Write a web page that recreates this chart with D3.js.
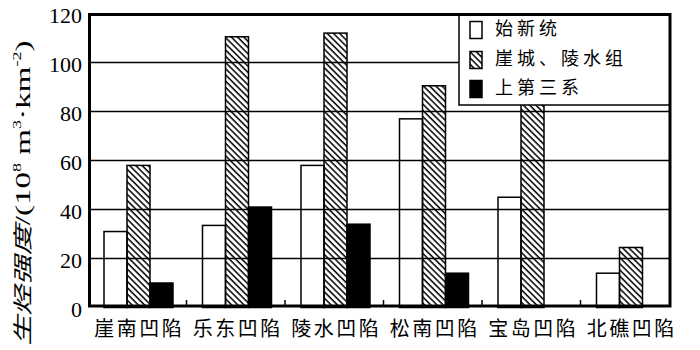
<!DOCTYPE html>
<html>
<head>
<meta charset="utf-8">
<script src="https://cdn.jsdelivr.net/npm/d3@7"></script>
<style>
  html, body { margin: 0; padding: 0; background: #fff; }
  svg { display: block; }
</style>
</head>
<body>
<svg id="chart" width="700" height="350"></svg>
<script>
// ---- data ----
const categories = ["崖南凹陷", "乐东凹陷", "陵水凹陷", "松南凹陷", "宝岛凹陷", "北礁凹陷"];
const seriesNames = ["始新统", "崖城、陵水组", "上第三系"];
const eocene   = [31, 33.5, 58, 77, 45, 14];
const yacheng  = [58, 110.5, 112, 90.5, 88, 24.5];
const neogene  = [10, 41, 34, 14, null, null];
const yTicks = [0, 20, 40, 60, 80, 100, 120];

const seriesValues = [eocene, yacheng, neogene];
const svg = d3.select("#chart");

// ---- layout ----
const frame = { left: 89.5, top: 14.5, right: 670, bottom: 306 };
const y = d3.scaleLinear().domain([0, 120]).range([307.5, 13.5]);
const x0 = d3.scaleBand().domain(categories).range([88, 679]).padding(0);
const x1 = d3.scaleBand().domain(seriesNames).range([16, 85]).padding(0);

// hatch pattern
const defs = svg.append("defs");
const pat = defs.append("pattern")
  .attr("id", "hatch")
  .attr("patternUnits", "userSpaceOnUse")
  .attr("width", 4.4).attr("height", 4.4)
  .attr("patternTransform", "rotate(-45)");
pat.append("line")
  .attr("x1", 1).attr("y1", 0).attr("x2", 1).attr("y2", 4.4)
  .attr("stroke", "#000").attr("stroke-width", 1.5);

const fills = ["#fff", "url(#hatch)", "#000"];

// ---- bars ----
const rows = [];
categories.forEach((c, i) => {
  seriesNames.forEach((s, j) => {
    const v = seriesValues[j][i];
    if (v != null) rows.push({ c, s, j, v });
  });
});

svg.append("g").selectAll("rect")
  .data(rows)
  .join("rect")
  .attr("x", d => x0(d.c) + x1(d.s))
  .attr("y", d => y(d.v))
  .attr("width", x1.bandwidth())
  .attr("height", d => y(0) - y(d.v))
  .attr("fill", d => fills[d.j])
  .attr("stroke", "#000")
  .attr("stroke-width", 1.5);

// ---- gridlines ----
svg.append("g").selectAll("line")
  .data(yTicks.filter(t => t > 0 && t < 120))
  .join("line")
  .attr("x1", frame.left).attr("x2", frame.right)
  .attr("y1", d => y(d)).attr("y2", d => y(d))
  .attr("stroke", "#000").attr("stroke-width", 1.3);

// ---- bottom small ticks between groups ----
svg.append("g").selectAll("line")
  .data(categories.slice(1))
  .join("line")
  .attr("x1", d => x0(d)).attr("x2", d => x0(d))
  .attr("y1", frame.bottom).attr("y2", frame.bottom - 6)
  .attr("stroke", "#000").attr("stroke-width", 1.5);

// ---- y tick labels ----
svg.append("g").selectAll("text")
  .data(yTicks)
  .join("text")
  .attr("x", 82)
  .attr("y", d => y(d) + 4)
  .attr("text-anchor", "end")
  .attr("dominant-baseline", "middle")
  .attr("font-family", "'Liberation Serif', serif")
  .attr("font-size", 22)
  .attr("fill", "#000")
  .text(d => d);

// ---- x category labels ----
svg.append("g").selectAll("text")
  .data(categories)
  .join("text")
  .attr("x", d => x0(d) + 50 + 1.25)
  .attr("y", 336)
  .attr("text-anchor", "middle")
  .attr("font-family", "'Noto Sans CJK SC', sans-serif")
  .attr("font-size", 20)
  .attr("letter-spacing", 2.5)
  .attr("fill", "#000")
  .text(d => d);

// ---- y title ----
const title = svg.append("text")
  .attr("transform", "translate(30,193) rotate(-90)")
  .attr("text-anchor", "middle")
  .attr("textLength", 305)
  .attr("lengthAdjust", "spacingAndGlyphs")
  .attr("font-size", 20)
  .attr("fill", "#000");
title.append("tspan").attr("font-family", "'Noto Sans CJK SC', sans-serif").attr("font-style", "italic").text("生烃强度");
title.append("tspan").attr("font-family", "'Liberation Serif', serif").attr("font-size", 22).text("/(10");
title.append("tspan").attr("font-family", "'Liberation Serif', serif").attr("font-size", 12).attr("dy", -9).text("8");
title.append("tspan").attr("font-family", "'Liberation Serif', serif").attr("font-size", 22).attr("dy", 9).text(" m");
title.append("tspan").attr("font-family", "'Liberation Serif', serif").attr("font-size", 12).attr("dy", -9).text("3");
title.append("tspan").attr("font-family", "'Liberation Serif', serif").attr("font-size", 22).attr("dy", 9).text("·km");
title.append("tspan").attr("font-family", "'Liberation Serif', serif").attr("font-size", 12).attr("dy", -9).text("-2");
title.append("tspan").attr("font-family", "'Liberation Serif', serif").attr("font-size", 22).attr("dy", 9).text(")");

// ---- legend ----
const leg = svg.append("g");
leg.append("rect")
  .attr("x", 459).attr("y", frame.top)
  .attr("width", frame.right - 459).attr("height", 105 - frame.top)
  .attr("fill", "#fff").attr("stroke", "#000").attr("stroke-width", 1.5);
const legRows = [30, 60, 89];
seriesNames.forEach((s, j) => {
  leg.append("rect")
    .attr("x", 470).attr("y", legRows[j] - 8.5)
    .attr("width", 12).attr("height", 17)
    .attr("fill", fills[j]).attr("stroke", "#000").attr("stroke-width", 1.5);
  leg.append("text")
    .attr("x", 495).attr("y", legRows[j])
    .attr("dominant-baseline", "middle")
    .attr("font-family", "'Noto Sans CJK SC', sans-serif")
    .attr("font-size", 18)
    .attr("letter-spacing", 4)
    .attr("fill", "#000")
    .text(s);
});

// ---- frame ----
svg.append("rect")
  .attr("x", frame.left).attr("y", frame.top)
  .attr("width", frame.right - frame.left).attr("height", frame.bottom - frame.top)
  .attr("fill", "none").attr("stroke", "#000").attr("stroke-width", 3);
</script>
</body>
</html>
